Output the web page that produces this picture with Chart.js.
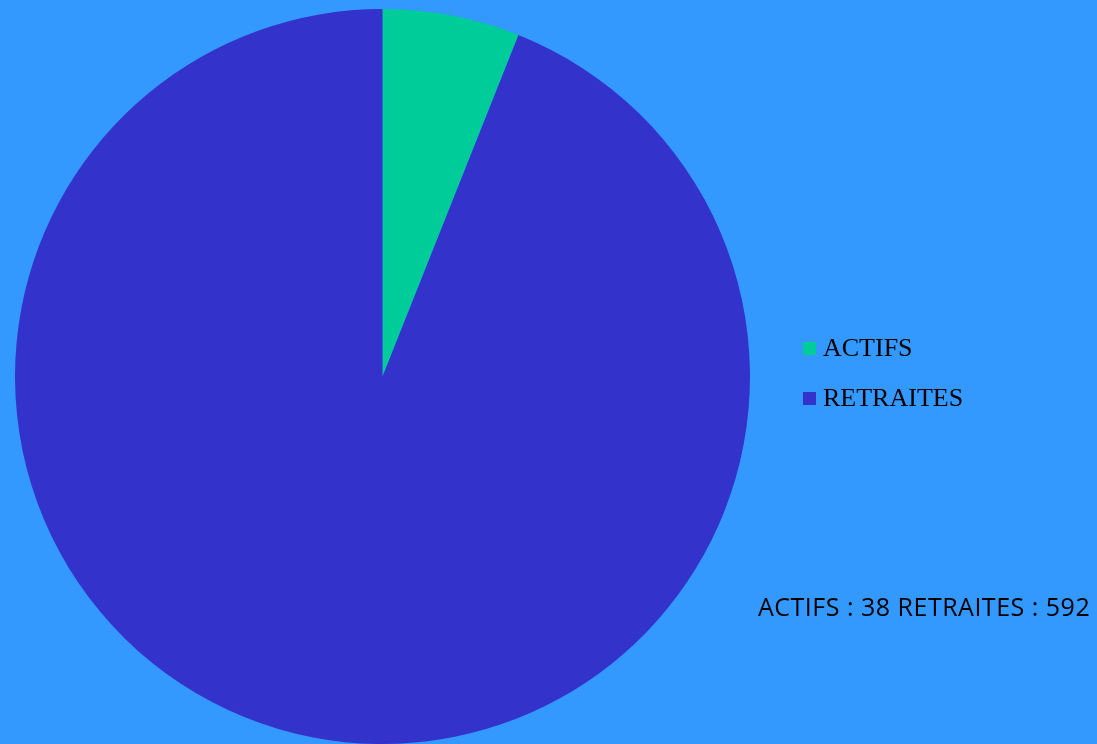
<!DOCTYPE html>
<html lang="fr">
<head>
    <meta charset="UTF-8">
    <title>Actifs / Retraites</title>
    <script src="https://cdn.jsdelivr.net/npm/chart.js"></script>
</head>
<style>
    html, body {
        margin: 0;
        padding: 0;
        background: #3399ff;
        overflow: hidden;
    }

    .chart-box {
        position: absolute;
        left: 0;
        top: 0;
        width: 1097px;
        height: 744px;
    }

    .legend {
        position: absolute;
        left: 803px;
        top: 330px;
        font-family: "Liberation Serif", "Times New Roman", serif;
        font-size: 26px;
        color: #000;
    }

    .legend-item {
        height: 50px;
        line-height: 36px;
        white-space: nowrap;
    }

    .legend-item span.box {
        display: inline-block;
        width: 13px;
        height: 13px;
        margin-right: 7px;
        vertical-align: 1px;
    }

    .summary {
        position: absolute;
        left: 758px;
        top: 593px;
        font-family: "Open Sans", sans-serif;
        font-size: 25px;
        line-height: 26px;
        letter-spacing: 0.5px;
        color: #000;
        white-space: nowrap;
    }
</style>

<body>
    <div class="chart-box">
        <canvas id="pieChart" width="1097" height="744"></canvas>
    </div>
    <div class="legend" id="legend"></div>
    <div class="summary" id="summary"></div>

    <script>
        const categories = ['ACTIFS', 'RETRAITES'];
        const counts = [38, 592];
        const colors = ['#00cc99', '#3333cc'];

        // legend (html)
        const legend = document.getElementById('legend');
        categories.forEach((name, i) => {
            const div = document.createElement('div');
            div.className = 'legend-item';
            div.innerHTML = '<span class="box" style="background:' + colors[i] + '"></span>' + name;
            legend.appendChild(div);
        });

        document.getElementById('summary').textContent =
            categories.map((name, i) => name + ' : ' + counts[i]).join(' ');

        const ctx = document.getElementById('pieChart').getContext('2d');
        new Chart(ctx, {
            type: 'pie',
            data: {
                labels: categories,
                datasets: [{
                    data: counts,
                    backgroundColor: colors,
                    borderWidth: 0
                }]
            },
            options: {
                responsive: false,
                animation: false,
                layout: {
                    padding: { left: 14, top: 9, right: 346, bottom: 0 }
                },
                plugins: {
                    legend: { display: false },
                    tooltip: { enabled: false }
                }
            }
        });
    </script>
</body>

</html>
